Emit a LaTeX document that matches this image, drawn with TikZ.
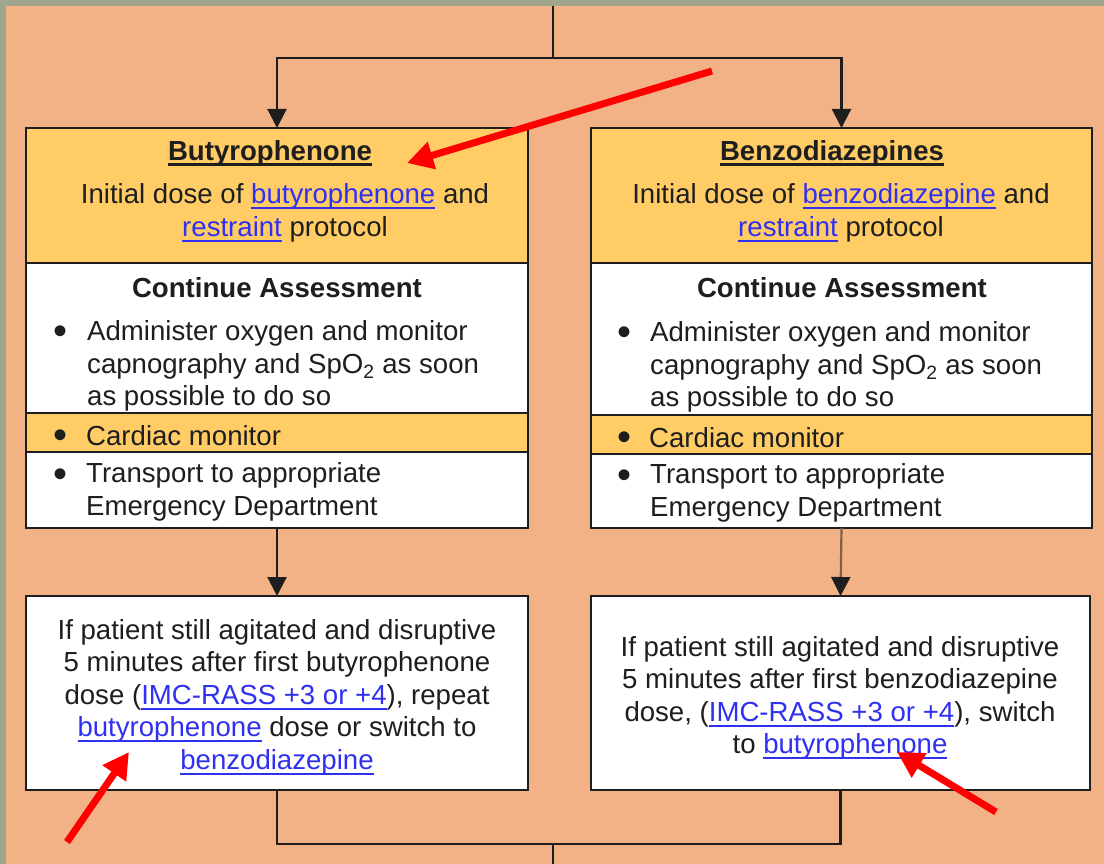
\documentclass[tikz,border=0pt]{standalone}
\usepackage{fontspec}
\setmainfont{Liberation Sans}
\usetikzlibrary{arrows.meta}
\definecolor{bgpeach}{HTML}{F3B186}
\definecolor{hdr}{HTML}{FFCC66}
\definecolor{frame}{HTML}{A0A58C}
\definecolor{linkblue}{HTML}{3030F0}
\definecolor{ink}{HTML}{1E1E1E}
\definecolor{brownline}{HTML}{7D5F4A}
\definecolor{redarrow}{HTML}{FF0000}
\newcommand\ulin[1]{\setbox0=\hbox{#1}\rlap{\rule[-5.5pt]{\wd0}{2pt}}\box0}
\newcommand\ulhead[1]{\setbox0=\hbox{#1}\rlap{\rule[-5.5pt]{\wd0}{2.6pt}}\box0}
\newcommand\lnk[1]{{\color{linkblue}\ulin{#1}}}
\tikzset{
  panel/.style={draw=ink, line width=2.2pt, inner sep=0pt, outer sep=0pt, anchor=north west},
  txt/.style={inner sep=0pt, text=ink, font=\fontsize{27.6}{32.5}\selectfont},
  ctxt/.style={txt, align=center},
  ltxt/.style={txt, align=left, anchor=west},
  bul/.style={inner sep=0pt, text=ink, font=\fontsize{40}{40}\selectfont},
  conn/.style={draw=ink, line width=2.2pt},
  arr/.style={conn, -{Triangle[length=19pt,width=19pt,color=ink]}},
  redarr/.style={draw=redarrow, line width=7pt, -{Triangle[length=26pt,width=27pt]}}
}
\begin{document}
\begin{tikzpicture}[x=1pt,y=-1pt]
\useasboundingbox (0,0) rectangle (1104,864);
\fill[frame] (0,0) rectangle (1104,864);
\fill[bgpeach] (6,6) rectangle (1104,864);

% left column
\node[panel, fill=hdr, minimum width=502pt, minimum height=135pt] (lhead) at (26,128) {};
\node[panel, fill=white, minimum width=502pt, minimum height=150pt] (lcont) at (26,263) {};
\node[panel, fill=hdr, minimum width=502pt, minimum height=39pt] (lcard) at (26,413) {};
\node[panel, fill=white, minimum width=502pt, minimum height=76pt] (ltrans) at (26,452) {};
\node[panel, fill=white, minimum width=502pt, minimum height=194pt] (lq) at (26,596) {};

% right column
\node[panel, fill=hdr, minimum width=501pt, minimum height=135pt] (rhead) at (591,128) {};
\node[panel, fill=white, minimum width=501pt, minimum height=152pt] (rcont) at (591,263) {};
\node[panel, fill=hdr, minimum width=501pt, minimum height=39pt] (rcard) at (591,415) {};
\node[panel, fill=white, minimum width=501pt, minimum height=74pt] (rtrans) at (591,454) {};
\node[panel, fill=white, minimum width=499pt, minimum height=194pt] (rq) at (591,596) {};

% texts left
\node[ctxt] (lhtitle) at (270,153) {\ulhead{\textbf{Butyrophenone}}};
\node[ctxt] (lhbody) at (285,213) {Initial dose of \lnk{butyrophenone} and\\\lnk{restraint} protocol};
\node[ctxt] (lctitle) at (277,288) {\textbf{Continue Assessment}};
\node[bul] (lb1) at (61,335) {\textbullet};
\node[ltxt] (lctext) at (87,366) {Administer oxygen and monitor\\capnography and SpO\textsubscript{2} as soon\\as possible to do so};
\node[bul] (lb2) at (61,439) {\textbullet};
\node[ltxt] (lcardtext) at (86,436) {Cardiac monitor};
\node[bul] (lb3) at (61,478) {\textbullet};
\node[ltxt] (ltranstext) at (86,492) {Transport to appropriate\\Emergency Department};
\node[ctxt] (lqtext) at (277,697) {If patient still agitated and disruptive\\5 minutes after first butyrophenone\\dose (\lnk{IMC-RASS +3 or +4}), repeat\\\lnk{butyrophenone} dose or switch to\\\lnk{benzodiazepine}};

% texts right
\node[ctxt] (rhtitle) at (832,153) {\ulhead{\textbf{Benzodiazepines}}};
\node[ctxt] (rhbody) at (841,213) {Initial dose of \lnk{benzodiazepine} and\\\lnk{restraint} protocol};
\node[ctxt] (rctitle) at (842,288) {\textbf{Continue Assessment}};
\node[bul] (rb1) at (624,336) {\textbullet};
\node[ltxt] (rctext) at (650,367) {Administer oxygen and monitor\\capnography and SpO\textsubscript{2} as soon\\as possible to do so};
\node[bul] (rb2) at (624,441) {\textbullet};
\node[ltxt] (rcardtext) at (649,438) {Cardiac monitor};
\node[bul] (rb3) at (624,479) {\textbullet};
\node[ltxt] (rtranstext) at (650,493) {Transport to appropriate\\Emergency Department};
\node[ctxt] (rqtext) at (840,698) {If patient still agitated and disruptive\\5 minutes after first benzodiazepine\\dose, (\lnk{IMC-RASS +3 or +4}), switch\\to \lnk{butyrophenone}};

% connectors
\coordinate (topin) at (553,6);
\coordinate (split) at (553,58);
\coordinate (merge) at (553,844);
\coordinate (bottomout) at (553,864);
\draw[conn] (topin) -- (split);
\draw[arr] (split) -| (lhead.north);
\draw[arr] (split) -| (rhead.north);
\draw[arr] (ltrans.south) -- (lq.north);
\draw[arr, draw=brownline] (rtrans.south) -- (rq.north);
\draw[conn] (lq.south) |- (merge) -| (rq.south);
\draw[conn] (merge) -- (bottomout);

% red annotation arrows
\coordinate (r1tail) at (712,71);
\coordinate (r1tip) at (407,163);
\coordinate (r2tail) at (67,842);
\coordinate (r2tip) at (129,752);
\coordinate (r3tail) at (996,812);
\coordinate (r3tip) at (897,752);
\draw[redarr] (r1tail) -- (r1tip);
\draw[redarr] (r2tail) -- (r2tip);
\draw[redarr] (r3tail) -- (r3tip);
\end{tikzpicture}
\end{document}
